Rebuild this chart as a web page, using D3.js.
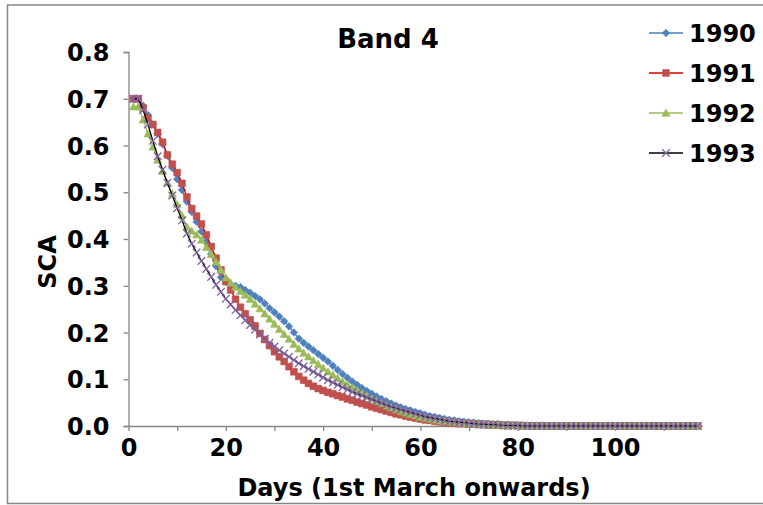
<!DOCTYPE html>
<html>
<head>
<meta charset="utf-8">
<script src="https://cdn.jsdelivr.net/npm/d3@7"></script>
<style>
	body { margin: 0; background: #ffffff; }
	text { font-family: "DejaVu Sans", sans-serif; font-weight: bold; fill: #000; }
</style>
</head>
<body>
<div id="chart"></div>
<script>
// frame size
const FRAME_WIDTH = 763;
const FRAME_HEIGHT = 505;

// days since 1st March
const DAYS = [1, 2, 3, 4, 5, 6, 7, 8, 9, 10, 11, 12, 13, 14, 15, 16, 17, 18, 19, 20,
	21, 22, 23, 24, 25, 26, 27, 28, 29, 30, 31, 32, 33, 34, 35, 36, 37, 38, 39, 40,
	41, 42, 43, 44, 45, 46, 47, 48, 49, 50, 51, 52, 53, 54, 55, 56, 57, 58, 59, 60,
	61, 62, 63, 64, 65, 66, 67, 68, 69, 70, 71, 72, 73, 74, 75, 76, 77, 78, 79, 80,
	81, 82, 83, 84, 85, 86, 87, 88, 89, 90, 91, 92, 93, 94, 95, 96, 97, 98, 99, 100,
	101, 102, 103, 104, 105, 106, 107, 108, 109, 110, 111, 112, 113, 114, 115, 116, 117];

// snow covered area per year
const SCA_1990 = [0.700, 0.700, 0.685, 0.665, 0.645, 0.625, 0.603, 0.578, 0.552, 0.528,
	0.505, 0.480, 0.458, 0.437, 0.416, 0.394, 0.368, 0.342, 0.318, 0.308,
	0.303, 0.300, 0.297, 0.291, 0.285, 0.278, 0.271, 0.262, 0.252, 0.243,
	0.234, 0.224, 0.213, 0.200, 0.187, 0.178, 0.170, 0.162, 0.154, 0.146,
	0.138, 0.129, 0.120, 0.111, 0.103, 0.095, 0.088, 0.081, 0.075, 0.069,
	0.063, 0.058, 0.053, 0.048, 0.044, 0.040, 0.036, 0.033, 0.030, 0.027,
	0.024, 0.021, 0.019, 0.017, 0.015, 0.013, 0.012, 0.010, 0.009, 0.008,
	0.007, 0.006, 0.005, 0.005, 0.004, 0.004, 0.003, 0.003, 0.002, 0.002,
	0.002, 0.001, 0.001, 0.001, 0.001, 0, 0, 0, 0, 0,
	0, 0, 0, 0, 0, 0, 0, 0, 0, 0,
	0, 0, 0, 0, 0, 0, 0, 0, 0, 0,
	0, 0, 0, 0, 0, 0, 0];

const SCA_1991 = [0.700, 0.700, 0.680, 0.658, 0.645, 0.628, 0.607, 0.580, 0.560, 0.542,
	0.519, 0.490, 0.465, 0.449, 0.432, 0.409, 0.384, 0.359, 0.334, 0.309,
	0.291, 0.271, 0.254, 0.240, 0.227, 0.214, 0.198, 0.185, 0.172, 0.159,
	0.148, 0.138, 0.127, 0.116, 0.106, 0.098, 0.091, 0.085, 0.080, 0.076,
	0.072, 0.069, 0.065, 0.062, 0.058, 0.055, 0.051, 0.048, 0.045, 0.041,
	0.038, 0.035, 0.032, 0.029, 0.026, 0.024, 0.021, 0.019, 0.017, 0.015,
	0.013, 0.012, 0.010, 0.009, 0.008, 0.007, 0.006, 0.005, 0.005, 0.004,
	0.004, 0.003, 0.003, 0.002, 0.002, 0.002, 0.001, 0.001, 0.001, 0.001,
	0, 0, 0, 0, 0, 0, 0, 0, 0, 0,
	0, 0, 0, 0, 0, 0, 0, 0, 0, 0,
	0, 0, 0, 0, 0, 0, 0, 0, 0, 0,
	0, 0, 0, 0, 0, 0, 0];

const SCA_1992 = [0.683, 0.683, 0.655, 0.625, 0.597, 0.569, 0.545, 0.520, 0.497, 0.474,
	0.450, 0.426, 0.417, 0.409, 0.398, 0.382, 0.367, 0.351, 0.334, 0.317,
	0.306, 0.297, 0.288, 0.280, 0.271, 0.261, 0.251, 0.240, 0.229, 0.218,
	0.207, 0.196, 0.186, 0.175, 0.165, 0.156, 0.148, 0.140, 0.132, 0.124,
	0.116, 0.109, 0.102, 0.095, 0.088, 0.082, 0.076, 0.070, 0.064, 0.058,
	0.053, 0.048, 0.043, 0.039, 0.035, 0.031, 0.028, 0.025, 0.022, 0.019,
	0.017, 0.015, 0.013, 0.011, 0.010, 0.009, 0.008, 0.007, 0.006, 0.005,
	0.004, 0.004, 0.003, 0.003, 0.002, 0.002, 0.002, 0.001, 0.001, 0.001,
	0, 0, 0, 0, 0, 0, 0, 0, 0, 0,
	0, 0, 0, 0, 0, 0, 0, 0, 0, 0,
	0, 0, 0, 0, 0, 0, 0, 0, 0, 0,
	0, 0, 0, 0, 0, 0, 0];

const SCA_1993 = [0.700, 0.700, 0.676, 0.645, 0.610, 0.577, 0.548, 0.520, 0.493, 0.466,
	0.440, 0.412, 0.390, 0.371, 0.353, 0.336, 0.319, 0.302, 0.287, 0.272,
	0.260, 0.248, 0.237, 0.226, 0.216, 0.206, 0.196, 0.187, 0.178, 0.170,
	0.162, 0.155, 0.148, 0.141, 0.134, 0.128, 0.122, 0.116, 0.110, 0.104,
	0.098, 0.093, 0.088, 0.083, 0.078, 0.073, 0.069, 0.065, 0.061, 0.057,
	0.053, 0.049, 0.045, 0.041, 0.038, 0.035, 0.032, 0.029, 0.026, 0.023,
	0.020, 0.018, 0.016, 0.014, 0.012, 0.010, 0.009, 0.008, 0.007, 0.006,
	0.005, 0.004, 0.004, 0.003, 0.003, 0.002, 0.002, 0.001, 0.001, 0.001,
	0, 0, 0, 0, 0, 0, 0, 0, 0, 0,
	0, 0, 0, 0, 0, 0, 0, 0, 0, 0,
	0, 0, 0, 0, 0, 0, 0, 0, 0, 0,
	0, 0, 0, 0, 0, 0, 0];

const YEARS = ["1990", "1991", "1992", "1993"];
const Y_TICKS = [0, 0.1, 0.2, 0.3, 0.4, 0.5, 0.6, 0.7, 0.8];
const X_TICKS = [0, 10, 20, 30, 40, 50, 60, 70, 80, 90, 100, 110];
const X_LABELS = [0, 20, 40, 60, 80, 100];

// style per series: line colour, marker colour, marker shape
const SERIES = [
	{name: YEARS[0], values: SCA_1990, line: "#4a7ebb", marker: "#4f81bd", shape: "diamond"},
	{name: YEARS[1], values: SCA_1991, line: "#d40000", marker: "#c0504d", shape: "square"},
	{name: YEARS[2], values: SCA_1992, line: "#9bbb59", marker: "#9bbb59", shape: "triangle"},
	{name: YEARS[3], values: SCA_1993, line: "#000000", marker: "#8064a2", shape: "cross"}
];

const FRAME = d3.select("#chart")
				.append("svg")
					.attr("width", FRAME_WIDTH)
					.attr("height", FRAME_HEIGHT);

// outer chart border
FRAME.append("rect")
		.attr("x", 7.5)
		.attr("y", 5)
		.attr("width", 800)
		.attr("height", 498.5)
		.attr("fill", "none")
		.attr("stroke", "#868686")
		.attr("stroke-width", 1.5);

// scales
const X_SCALE = d3.scaleLinear()
					.domain([0, 118])
					.range([128.5, 128.5 + 118 * 4.865]);

const Y_SCALE = d3.scaleLinear()
					.domain([0, 0.8])
					.range([426, 52]);

// y-axis
const Y_AXIS = FRAME.append("g")
					.attr("transform", "translate(" + X_SCALE(0) + ",0)")
					.call(d3.axisLeft(Y_SCALE)
							.tickValues(Y_TICKS)
							.tickSize(5)
							.tickPadding(14)
							.tickFormat(d3.format(".1f")));
Y_AXIS.select(".domain").attr("stroke", "#868686").attr("stroke-width", 1.3);
Y_AXIS.selectAll(".tick line").attr("stroke", "#868686").attr("stroke-width", 1.3);
Y_AXIS.selectAll(".tick text")
		.attr("font-family", "DejaVu Sans")
		.attr("font-weight", "bold")
		.attr("font-size", "24px")
		.attr("dy", "0.36em");

// x-axis
const X_AXIS = FRAME.append("g")
					.attr("transform", "translate(0," + Y_SCALE(0) + ")")
					.call(d3.axisBottom(X_SCALE)
							.tickValues(X_TICKS)
							.tickSize(5)
							.tickSizeOuter(0)
							.tickPadding(8)
							.tickFormat((d) => {return X_LABELS.includes(d) ? d : "";}));
X_AXIS.select(".domain").attr("stroke", "#868686").attr("stroke-width", 1.3);
X_AXIS.selectAll(".tick line").attr("stroke", "#868686").attr("stroke-width", 1.3);
X_AXIS.selectAll(".tick text")
		.attr("font-family", "DejaVu Sans")
		.attr("font-weight", "bold")
		.attr("font-size", "24px");

// marker paths
function markerPath(shape) {
	if (shape == "diamond") {
		return "M0,-3.8L3.8,0L0,3.8L-3.8,0Z";
	}
	if (shape == "square") {
		return "M-3.4,-3.4H3.4V3.4H-3.4Z";
	}
	if (shape == "triangle") {
		return "M0,-4L4,3.2L-4,3.2Z";
	}
	return "M-3.8,-3.8L3.8,3.8M-3.8,3.8L3.8,-3.8";
}

// lines and markers, 1990 drawn first and 1993 on top
const LINE = d3.line()
				.x((d, i) => {return X_SCALE(DAYS[i]);})
				.y((d) => {return Y_SCALE(d);});

SERIES.forEach((s) => {
	const G = FRAME.append("g").attr("class", "series");

	G.append("path")
		.datum(s.values)
		.attr("d", LINE)
		.attr("fill", "none")
		.attr("stroke", s.line)
		.attr("stroke-width", 1.3);

	G.selectAll("markers")
		.data(s.values)
		.enter()
		.append("path")
			.attr("transform", (d, i) => {return "translate(" + X_SCALE(DAYS[i]) + "," + Y_SCALE(d) + ")";})
			.attr("d", markerPath(s.shape))
			.attr("fill", s.shape == "cross" ? "none" : s.marker)
			.attr("stroke", s.marker)
			.attr("stroke-width", s.shape == "cross" ? 1.3 : 0.6);
});

// title
FRAME.append("text")
		.attr("x", 388)
		.attr("y", 48)
		.attr("text-anchor", "middle")
		.attr("font-size", "26px")
		.text("Band 4");

// axis titles
FRAME.append("text")
		.attr("x", 414)
		.attr("y", 496)
		.attr("text-anchor", "middle")
		.attr("font-size", "24px")
		.text("Days (1st March onwards)");

FRAME.append("text")
		.attr("transform", "translate(56,262) rotate(-90)")
		.attr("text-anchor", "middle")
		.attr("font-size", "24px")
		.text("SCA");

// legend
const LEGEND = FRAME.selectAll("legend")
					.data(SERIES)
					.enter()
					.append("g")
						.attr("transform", (d, i) => {return "translate(0," + (33 + i * 40) + ")";});

LEGEND.append("line")
		.attr("x1", 649)
		.attr("x2", 683)
		.attr("stroke", (d) => {return d.line;})
		.attr("stroke-width", 1.3);

LEGEND.append("path")
		.attr("transform", "translate(666,0)")
		.attr("d", (d) => {return markerPath(d.shape);})
		.attr("fill", (d) => {return d.shape == "cross" ? "none" : d.marker;})
		.attr("stroke", (d) => {return d.marker;})
		.attr("stroke-width", (d) => {return d.shape == "cross" ? 1.3 : 0.6;});

LEGEND.append("text")
		.attr("x", 689)
		.attr("y", 0)
		.attr("dy", "0.36em")
		.attr("font-size", "24px")
		.text((d) => {return d.name;});
</script>
</body>
</html>
